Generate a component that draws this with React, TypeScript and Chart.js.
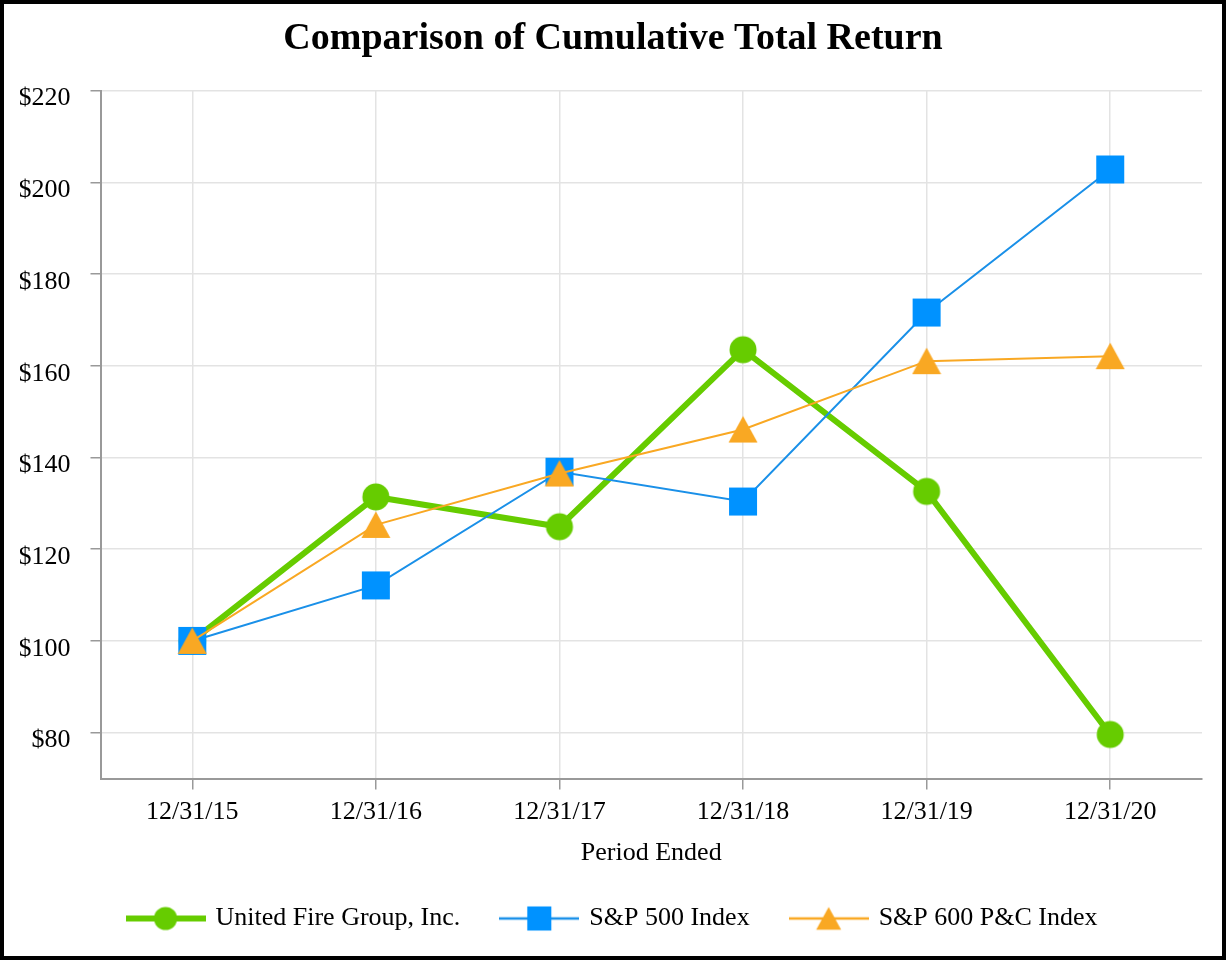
import React, { useEffect, useRef } from 'react';
import { Chart, registerables } from 'chart.js';

Chart.register(...registerables);

const periods = ['12/31/15', '12/31/16', '12/31/17', '12/31/18', '12/31/19', '12/31/20'];
const unitedFire = [100, 131.4, 124.9, 163.5, 132.6, 79.6];
const sp500 = [100, 112.1, 136.9, 130.4, 171.6, 202.8];
const sp600pc = [100, 125.3, 136.5, 146.1, 161.0, 162.1];
const seriesNames = ['United Fire Group, Inc.', 'S&P 500 Index', 'S&P 600 P&C Index'];
const yMin = 70;
const yMax = 220;
const yStep = 20;
const yFirstLabel = 80;
const chartTitle = 'Comparison of Cumulative Total Return';
const xTitle = 'Period Ended';

const GREEN = '#66cc00';
const BLUE = '#0092ff';
const BLUE_LINE = '#1a90e8';
const ORANGE = '#f9a823';
const GRID = '#e3e3e3';
const AXIS = '#999999';
const FONT = '"Liberation Serif", "Times New Roman", serif';

type Kind = 'circle' | 'square' | 'triangle';

function drawMarker(ctx: CanvasRenderingContext2D, kind: Kind, color: string, cx: number, cy: number, s: number) {
  ctx.fillStyle = color;
  ctx.beginPath();
  if (kind === 'circle') {
    ctx.arc(cx, cy, 13.5 * s, 0, Math.PI * 2);
  } else if (kind === 'square') {
    ctx.rect(cx - 14 * s, cy - 14 * s, 28 * s, 28 * s);
  } else {
    ctx.moveTo(cx, cy - 13.5 * s);
    ctx.lineTo(cx + 14.5 * s, cy + 13 * s);
    ctx.lineTo(cx - 14.5 * s, cy + 13 * s);
    ctx.closePath();
  }
  ctx.fill();
}

function markerImage(kind: Kind, color: string) {
  const c = document.createElement('canvas');
  c.width = 30;
  c.height = 30;
  const ctx = c.getContext('2d')!;
  drawMarker(ctx, kind, color, 15, 15, 1);
  return c;
}

function legendImage(kind: Kind, color: string, lineColor: string, lw: number) {
  const c = document.createElement('canvas');
  c.width = 80;
  c.height = 30;
  const ctx = c.getContext('2d')!;
  ctx.strokeStyle = lineColor;
  ctx.lineWidth = lw;
  ctx.beginPath();
  ctx.moveTo(0, 15);
  ctx.lineTo(80, 15);
  ctx.stroke();
  drawMarker(ctx, kind, color, 40, 15, 0.86);
  return c;
}

export default function App() {
  const ref = useRef<HTMLCanvasElement>(null);
  useEffect(() => {
    const canvas = ref.current!;
    const legendIcons = [
      legendImage('circle', GREEN, GREEN, 6),
      legendImage('square', BLUE, BLUE_LINE, 2.5),
      legendImage('triangle', ORANGE, ORANGE, 2.5),
    ];
    const font = { family: FONT, size: 26 };
    const sidePad = 16;
    const chart = new Chart(canvas, {
      type: 'line',
      data: {
        labels: periods,
        datasets: [
          {
            label: seriesNames[0],
            data: unitedFire,
            borderColor: GREEN,
            backgroundColor: GREEN,
            borderWidth: 6,
            pointStyle: markerImage('circle', GREEN),
            pointRadius: 14,
            order: 2,
          },
          {
            label: seriesNames[1],
            data: sp500,
            borderColor: BLUE_LINE,
            backgroundColor: BLUE,
            borderWidth: 2,
            pointStyle: markerImage('square', BLUE),
            pointRadius: 14,
            order: 1,
          },
          {
            label: seriesNames[2],
            data: sp600pc,
            borderColor: ORANGE,
            backgroundColor: ORANGE,
            borderWidth: 2,
            pointStyle: markerImage('triangle', ORANGE),
            pointRadius: 14,
            order: 0,
          },
        ],
      },
      options: {
        responsive: false,
        animation: false,
        events: [],
        layout: { padding: { left: sidePad, right: sidePad, top: 0, bottom: 14.5 } },
        plugins: {
          title: {
            display: true,
            text: chartTitle,
            color: '#000',
            font: { family: FONT, size: 38, weight: 'bold' },
            padding: { top: 12, bottom: 29 },
          },
          legend: {
            position: 'bottom',
            labels: {
              usePointStyle: true,
              pointStyleWidth: 74,
              boxHeight: 26,
              color: '#000',
              font,
              padding: 42,
              sort: (a: any, b: any) => a.datasetIndex - b.datasetIndex,
              generateLabels: (ch: any) =>
                Chart.defaults.plugins.legend.labels
                  .generateLabels(ch)
                  .map((l: any) => ({ ...l, pointStyle: legendIcons[l.datasetIndex] })),
            },
          },
          tooltip: { enabled: false },
        },
        scales: {
          x: {
            offset: true,
            grid: { offset: false, color: GRID, lineWidth: 1.5, tickColor: AXIS, tickLength: 11 },
            border: { color: AXIS, width: 2 },
            ticks: { color: '#000', font, padding: 7 },
            title: { display: true, text: xTitle, color: '#000', font, padding: { top: 0, bottom: -5 } },
            afterFit: (axis: any) => {
              axis.height = 85;
            },
          },
          y: {
            min: yMin,
            max: yMax,
            grid: { color: GRID, lineWidth: 1.5, tickColor: AXIS, tickLength: 10 },
            border: { color: AXIS, width: 2 },
            ticks: {
              stepSize: yStep,
              color: '#000',
              font,
              padding: 20,
              labelOffset: 8,
              callback: (v: any) => '$' + v,
            },
            afterBuildTicks: (axis: any) => {
              axis.ticks = axis.ticks.filter((t: any) => t.value >= yFirstLabel);
            },
            afterFit: (axis: any) => {
              axis.width = 96.5 - sidePad;
            },
          },
        },
      },
    } as any);
    return () => chart.destroy();
  }, []);
  return (
    <div
      style={{
        position: 'absolute',
        left: 0,
        top: 0,
        width: 1226,
        height: 960,
        border: '4px solid #000',
        boxSizing: 'border-box',
        background: '#fff',
      }}
    >
      <canvas ref={ref} width={1218} height={952} style={{ display: 'block', width: 1218, height: 952 }} />
    </div>
  );
}
